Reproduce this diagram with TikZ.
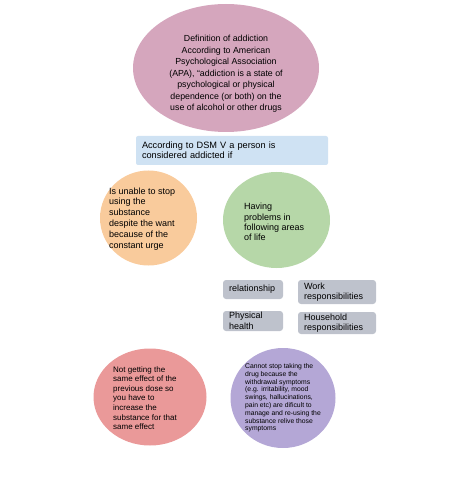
\documentclass[tikz,border=0pt]{standalone}
\usepackage{fontspec}
\setmainfont{Liberation Sans}
\usetikzlibrary{shapes.geometric}
\definecolor{defpink}{RGB}{213,166,189}
\definecolor{dsmblue}{RGB}{207,226,243}
\definecolor{urgeorange}{RGB}{249,203,156}
\definecolor{lifegreen}{RGB}{182,215,168}
\definecolor{tolred}{RGB}{234,153,153}
\definecolor{wdpurple}{RGB}{180,167,214}
\definecolor{areagray}{RGB}{190,194,204}

\begin{document}
\begin{tikzpicture}[
    x=1pt, y=-1pt,
    bubble/.style={ellipse, inner sep=0pt},
    area/.style={rectangle, rounded corners=3pt, fill=areagray, align=left, inner xsep=6pt, inner ysep=0pt},
    txt/.style={align=left, inner sep=0pt, anchor=west},
    mid/.style={font=\fontsize{9}{10.6}\selectfont},
    small/.style={font=\fontsize{6.8}{7.8}\selectfont}
]
\useasboundingbox (0,0) rectangle (454,478);

% definition
\node[bubble, fill=defpink, minimum width=186pt, minimum height=128pt] (def) at (226,68) {};
\node[align=center, inner sep=0pt, font=\fontsize{8.8}{11.5}\selectfont] (deftext) at (226,74)
    {Definition of addiction\\According to American\\Psychological Association\\(APA), “addiction is a state of\\psychological or physical\\dependence (or both) on the\\use of alcohol or other drugs};

% DSM V
\node[rectangle, rounded corners=2pt, fill=dsmblue, minimum height=29pt, text width=180pt, inner xsep=6pt, align=left,
    font=\fontsize{9.2}{10}\selectfont] (dsm) at (232,150.5)
    {According to DSM V a person is\\considered addicted if};

% criteria bubbles
\node[bubble, fill=urgeorange, minimum width=97pt, minimum height=95pt] (urge) at (148.5,218) {};
\node[txt, mid, font=\fontsize{9}{10.9}\selectfont] (urgetext) at (109,219)
    {Is unable to stop\\using the\\substance\\despite the want\\because of the\\constant urge};

\node[bubble, fill=lifegreen, minimum width=107pt, minimum height=96pt] (life) at (276.5,220) {};
\node[txt, mid, font=\fontsize{9}{10.2}\selectfont] (lifetext) at (244,222)
    {Having\\problems in\\following areas\\of life};

% areas of life
\node[area, mid, minimum height=19pt, text width=48pt] (rel) at (253,289.5) {relationship};
\node[area, mid, minimum height=24pt, text width=66pt] (work) at (337,292) {Work\\responsibilities};
\node[area, mid, minimum height=20pt, text width=48pt] (phys) at (253,321) {Physical\\health};
\node[area, mid, minimum height=22pt, text width=66pt] (house) at (337,323) {Household\\responsibilities};

% tolerance and withdrawal
\node[bubble, fill=tolred, minimum width=113pt, minimum height=97pt] (tol) at (150,397) {};
\node[txt, font=\fontsize{8}{9.6}\selectfont] (toltext) at (113,398)
    {Not getting the\\same effect of the\\previous dose so\\you have to\\increase the\\substance for that\\same effect};

\node[bubble, fill=wdpurple, minimum width=105pt, minimum height=100pt] (wd) at (283,398) {};
\node[txt, small] (wdtext) at (245,398)
    {Cannot stop taking the\\drug because the\\withdrawal symptoms\\(e.g. irritability, mood\\swings, hallucinations,\\pain etc) are dificult to\\manage and re-using the\\substance relive those\\symptoms};
\end{tikzpicture}
\end{document}
